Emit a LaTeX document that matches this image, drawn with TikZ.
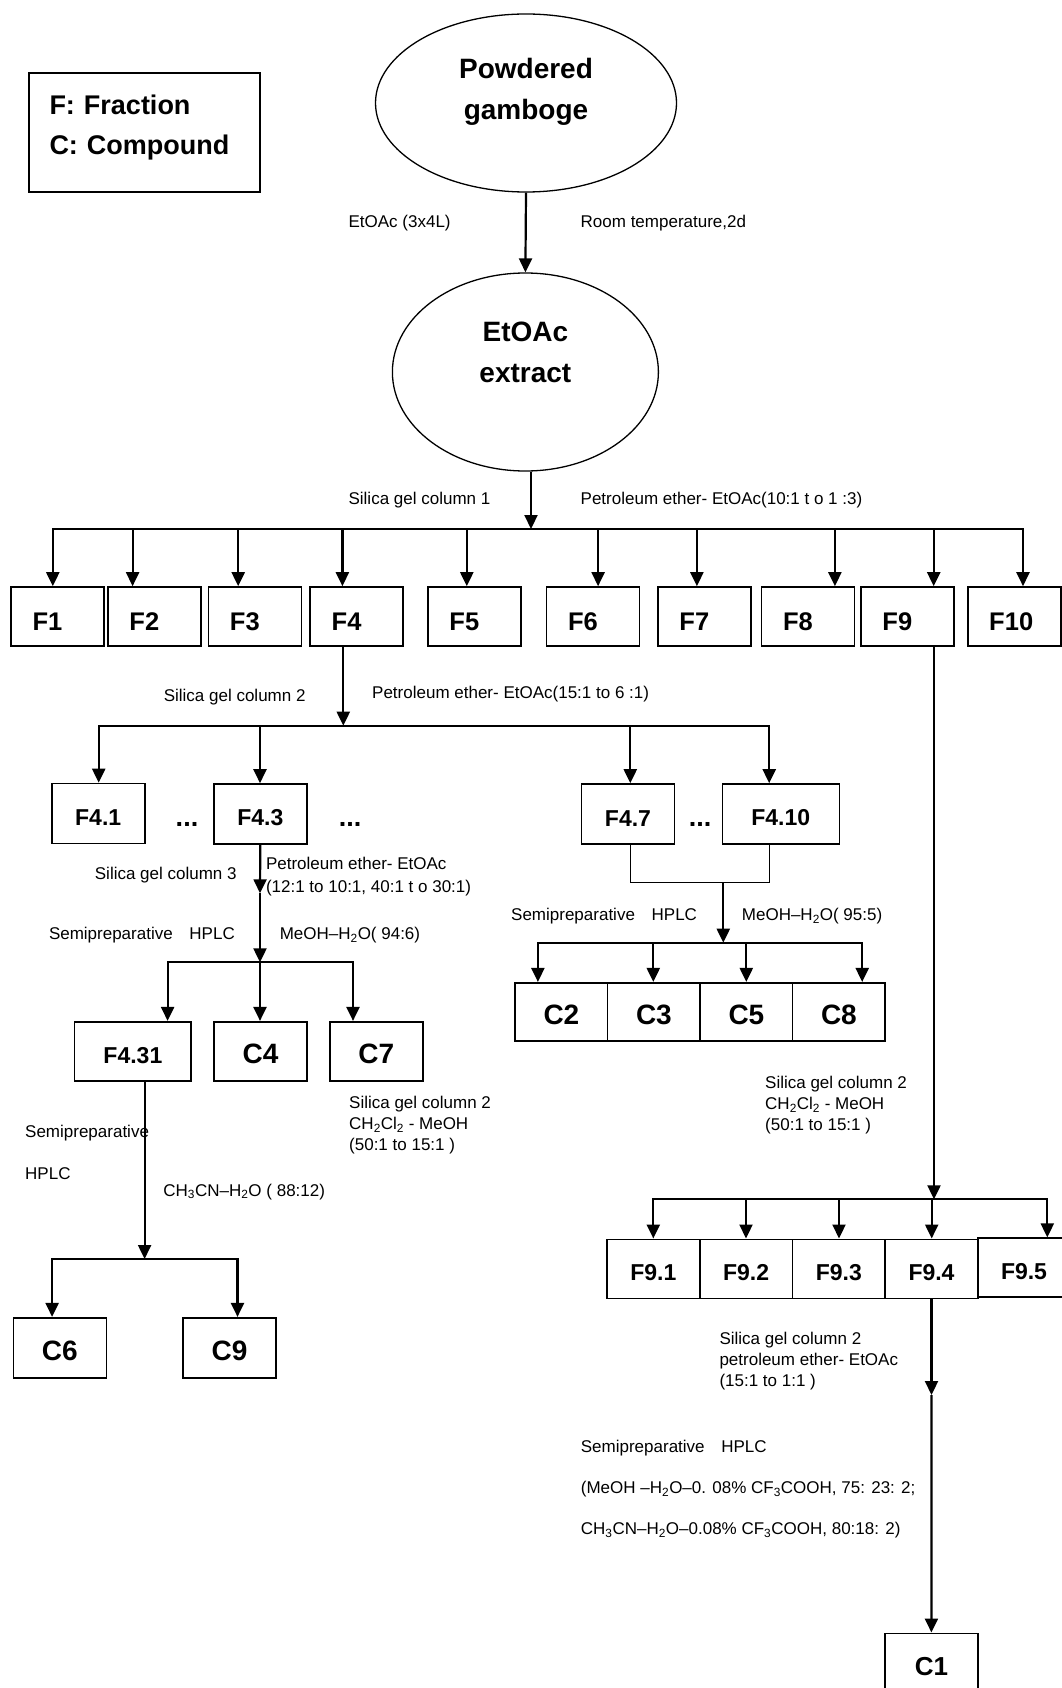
\documentclass[tikz,border=0pt]{standalone}
\usepackage{fontspec}
\setmainfont{Liberation Sans}
\usetikzlibrary{arrows.meta}
\usetikzlibrary{shapes.geometric}
\usetikzlibrary{positioning}

\begin{document}
\begin{tikzpicture}[x=1pt,y=-1pt,
  arr/.style={-{Triangle[length=14pt,width=13pt]},line width=2.2pt},
  busline/.style={line width=2.2pt,line cap=rect},
  thinlink/.style={line width=1.1pt},
  blob/.style={draw,ellipse,line width=1.3pt,inner sep=0pt},
  blobtext/.style={font=\bfseries\fontsize{28}{41}\selectfont,align=center,inner sep=0pt},
  fbox/.style={draw,line width=1.6pt,minimum width=93pt,minimum height=59pt,inner sep=0pt,font=\bfseries\fontsize{27}{27}\selectfont,execute at begin node={\rule{0pt}{24pt}}},
  topbox/.style={fbox,font=\bfseries\fontsize{25.5}{25.5}\selectfont,execute at begin node={\rule{0pt}{27.3pt}}},
  rowbox/.style={topbox,execute at end node={\hspace*{20pt}}},
  subbox/.style={fbox,font=\bfseries\fontsize{23}{23}\selectfont,execute at begin node={\rule{0pt}{21pt}}},
  cbox/.style={fbox,font=\bfseries\fontsize{28}{28}\selectfont,execute at begin node={\rule{0pt}{25pt}}},
  note/.style={anchor=west,align=left,inner sep=0pt,font=\fontsize{17}{21}\selectfont},
  ellip/.style={anchor=base,inner sep=0pt,font=\bfseries\fontsize{27}{27}\selectfont}]
\useasboundingbox (0,0) rectangle (1061,1688);

\node[draw,line width=1.6pt,minimum width=231pt,minimum height=119pt,text width=190pt,align=left,font=\bfseries\fontsize{27}{40}\selectfont] at (144.5,132.5) (legend) {F: Fraction\\C: Compound\rule[-15pt]{0pt}{1pt}};

% extraction
\node[blob,minimum width=301pt,minimum height=178pt] at (526,103) (powder) {};
\node[blobtext] at (526,92) (powdertxt) {Powdered\\gamboge};
\node[blob,minimum width=266pt,minimum height=198pt] at (525.4,372) (extract) {};
\node[blobtext] at (525.4,352) (extracttxt) {EtOAc\\extract};
\draw [arr] (powder.south) -- (extract.north);
\node[note] at (348.4,223.5) (lbla) {EtOAc (3x4L)};
\node[note] at (580.5,223.5) (lblb) {Room temperature,2d};

% silica gel column 1
\node[note] at (348.4,500.5) (lblc) {Silica gel column 1};
\node[note] at (580.5,500.5) (lbld) {Petroleum ether- EtOAc(10:1 t o 1 :3)};
\coordinate (t1) at (531,529);
\draw [arr] (extract.south -| t1) -- (t1);
\coordinate (a1) at (52.8,529);  \coordinate (a2) at (132.6,529);
\coordinate (a3) at (238.2,529); \coordinate (a4) at (342.4,529);
\coordinate (a5) at (466.8,529); \coordinate (a6) at (598.1,529);
\coordinate (a7) at (696.9,529); \coordinate (a8) at (834.9,529);
\coordinate (a9) at (933.7,529); \coordinate (a10) at (1023,529);
\draw [busline] (a1) -- (a10);

\node[rowbox] at (57.5,616.5) (f1) {F1};
\node[rowbox] at (154.3,616.5) (f2) {F2};
\node[rowbox] at (254.8,616.5) (f3) {F3};
\node[rowbox] at (356.6,616.5) (f4) {F4};
\node[rowbox] at (474.3,616.5) (f5) {F5};
\node[rowbox] at (593,616.5) (f6) {F6};
\node[rowbox] at (704.3,616.5) (f7) {F7};
\node[rowbox] at (807.9,616.5) (f8) {F8};
\node[rowbox] at (907.3,616.5) (f9) {F9};
\node[topbox,execute at end node={\hspace*{6pt}}] at (1014.2,616.5) (f10) {F10};
\draw [arr] (a1) -- (a1 |- f1.north);
\draw [arr] (a2) -- (a2 |- f2.north);
\draw [arr] (a3) -- (a3 |- f3.north);
\draw [arr] (a4) -- (a4 |- f4.north);
\draw [arr] (a5) -- (a5 |- f5.north);
\draw [arr] (a6) -- (a6 |- f6.north);
\draw [arr] (a7) -- (a7 |- f7.north);
\draw [arr] (a8) -- (a8 |- f8.north);
\draw [arr] (a9) -- (a9 |- f9.north);
\draw [arr] (a10) -- (a10 |- f10.north);

% F4: silica gel column 2
\node[note] at (163.6,697) (lble) {Silica gel column 2};
\node[note] at (372,694) (lblf) {Petroleum ether- EtOAc(15:1 to 6 :1)};
\coordinate (t2) at (343.3,725.7);
\draw [arr] (f4.south -| t2) -- (t2);
\coordinate (b1) at (98.7,725.7);  \coordinate (b2) at (260,725.7);
\coordinate (b3) at (630.3,725.7); \coordinate (b4) at (769.2,725.7);
\draw [busline] (b1) -- (b4);
\node[subbox,minimum height=60pt] at (98.2,813.5) (f41) {F4.1};
\node[subbox,minimum height=60pt] at (260.3,814) (f43) {F4.3};
\node[subbox,minimum height=60pt] at (628,814) (f47) {F4.7};
\node[subbox,minimum height=60pt,minimum width=117pt] at (780.8,814) (f410) {F4.10};
\node[ellip] at (187,826) (dotsa) {...};
\node[ellip] at (350,826) (dotsb) {...};
\node[ellip] at (700,826) (dotsc) {...};
\draw [arr] (b1) -- (b1 |- f41.north);
\draw [arr] (b2) -- (b2 |- f43.north);
\draw [arr] (b3) -- (b3 |- f47.north);
\draw [arr] (b4) -- (b4 |- f410.north);

% F4.3: silica gel column 3, then HPLC
\node[note] at (94.7,875.3) (lblg) {Silica gel column 3};
\node[note,font=\fontsize{17}{23}\selectfont] at (265.8,877) (lblh) {Petroleum ether- EtOAc\\(12:1 to 10:1, 40:1 t o 30:1)};
\node[note] at (48.8,935.3) (lbli) {Semipreparative\hspace{12pt} HPLC};
\node[note] at (279.6,935.3) (lblj) {MeOH–H\textsubscript{2}O( 94:6)};
\coordinate (m1) at (260,893.3);
\coordinate (t3) at (260,962.3);
\draw [arr] (f43.south) -- (m1);
\draw [arr] (m1) -- (t3);
\coordinate (c1) at (167.6,962.3); \coordinate (c2) at (260,962.3); \coordinate (c3) at (353,962.3);
\draw [busline] (c1) -- (c3);
\node[subbox,minimum width=116.6pt] at (132.9,1051.2) (f431) {F4.31};
\node[cbox] at (260.6,1051.2) (cp4) {C4};
\node[cbox] at (376.3,1051.2) (cp7) {C7};
\draw [arr] (c1) -- (c1 |- f431.north);
\draw [arr] (c2) -- (c2 |- cp4.north);
\draw [arr] (c3) -- (c3 |- cp7.north);
\node[note] at (349,1125) (lblk) {Silica gel column 2\\CH\textsubscript{2}Cl\textsubscript{2} - MeOH\\(50:1 to 15:1 )};

% F4.31: HPLC
\node[note] at (25,1132.7) (lbll) {Semipreparative};
\node[note] at (25,1173.3) (lblm) {HPLC};
\node[note] at (163.2,1191.7) (lbln) {CH\textsubscript{3}CN–H\textsubscript{2}O ( 88:12)};
\coordinate (t4) at (144.6,1259);
\draw [arr] (f431.south -| t4) -- (t4);
\coordinate (e1) at (52.1,1259); \coordinate (e2) at (237.5,1259);
\draw [busline] (e1) -- (e2);
\node[cbox,minimum height=60pt] at (59.8,1347.7) (cp6) {C6};
\node[cbox,minimum height=60pt] at (229.5,1347.7) (cp9) {C9};
\draw [arr] (e1) -- (e1 |- cp6.north);
\draw [arr] (e2) -- (e2 |- cp9.north);

% F4.7 ... F4.10: HPLC
\coordinate (k1) at (630.3,882.7); \coordinate (k2) at (769.2,882.7);
\draw [thinlink] (f47.south -| k1) -- (k1) -- (k2) -- (f410.south -| k2);
\node[note] at (511,916) (lblo) {Semipreparative\hspace{12pt} HPLC};
\node[note] at (741.7,916) (lblp) {MeOH–H\textsubscript{2}O( 95:5)};
\coordinate (k0) at (723.3,882.7);
\coordinate (t5) at (723.3,942.7);
\draw [arr] (k0) -- (t5);
\coordinate (g1) at (537.9,942.7); \coordinate (g2) at (653.3,942.7);
\coordinate (g3) at (746.3,942.7); \coordinate (g4) at (862.2,942.7);
\draw [busline] (g1) -- (g4);
\node[cbox,minimum width=92.5pt,minimum height=58.3pt] at (561.4,1011.9) (cp2) {C2};
\node[cbox,minimum width=92.5pt,minimum height=58.3pt] at (653.9,1011.9) (cp3) {C3};
\node[cbox,minimum width=92.5pt,minimum height=58.3pt] at (746.4,1011.9) (cp5) {C5};
\node[cbox,minimum width=92.5pt,minimum height=58.3pt] at (838.9,1011.9) (cp8) {C8};
\draw [arr] (g1) -- (g1 |- cp2.north);
\draw [arr] (g2) -- (g2 |- cp3.north);
\draw [arr] (g3) -- (g3 |- cp5.north);
\draw [arr] (g4) -- (g4 |- cp8.north);

% F9: silica gel column 2
\node[note] at (765,1105) (lblq) {Silica gel column 2\\CH\textsubscript{2}Cl\textsubscript{2} - MeOH\\(50:1 to 15:1 )};
\coordinate (t6) at (934,1199.3);
\draw [arr] (f9.south -| t6) -- (t6);
\coordinate (h1) at (653.3,1199.3); \coordinate (h2) at (746,1199.3);
\coordinate (h3) at (839,1199.3);   \coordinate (h4) at (931.7,1199.3);
\coordinate (h5) at (1047.3,1199.3);
\draw [busline] (h1) -- (h5);
\node[subbox,minimum width=92.7pt] at (653.4,1268.8) (f91) {F9.1};
\node[subbox,minimum width=92.7pt] at (746.1,1268.8) (f92) {F9.2};
\node[subbox,minimum width=92.7pt] at (838.8,1268.8) (f93) {F9.3};
\node[subbox,minimum width=92.7pt] at (931.5,1268.8) (f94) {F9.4};
\node[subbox,minimum width=92.7pt] at (1024,1267.7) (f95) {F9.5};
\draw [arr] (h1) -- (h1 |- f91.north);
\draw [arr] (h2) -- (h2 |- f92.north);
\draw [arr] (h3) -- (h3 |- f93.north);
\draw [arr] (h4) -- (h4 |- f94.north);
\draw [arr] (h5) -- (h5 |- f95.north);

% F9.4: silica gel column 2, then HPLC
\node[note] at (719.3,1361.5) (lblr) {Silica gel column 2\\petroleum ether- EtOAc\\(15:1 to 1:1 )};
\node[note] at (580.7,1447.7) (lbls) {Semipreparative\hspace{12pt} HPLC};
\node[note] at (580.7,1489.3) (lblt) {(MeOH –H\textsubscript{2}O–0. 08\% CF\textsubscript{3}COOH, 75: 23: 2;};
\node[note] at (580.7,1530.3) (lblu) {CH\textsubscript{3}CN–H\textsubscript{2}O–0.08\% CF\textsubscript{3}COOH, 80:18: 2)};
\node[cbox,minimum width=92.7pt,minimum height=59.4pt,font=\bfseries\fontsize{26}{26}\selectfont] at (931.4,1663) (cp1) {C1};
\coordinate (m2) at (931.5,1395);
\draw [arr] (f94.south) -- (m2);
\draw [arr] (m2) -- (cp1.north);

\end{tikzpicture}
\end{document}
